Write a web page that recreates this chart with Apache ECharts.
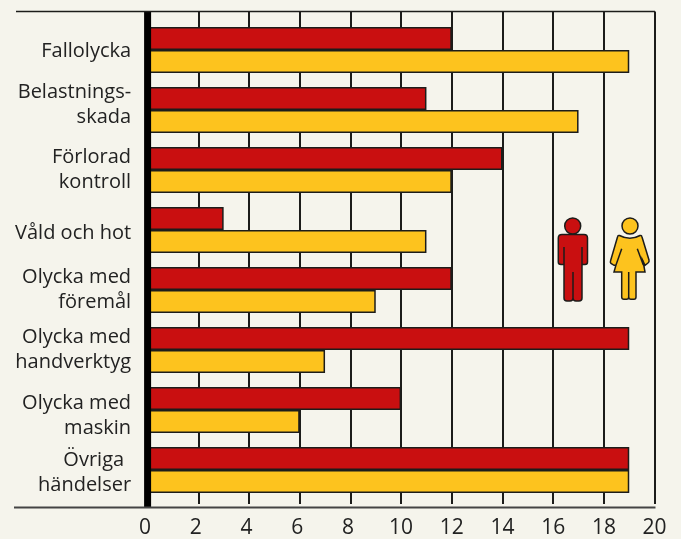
<!DOCTYPE html>
<html lang="sv">
<head>
    <meta charset="UTF-8">
    <title>Olyckor</title>
    <script src="https://cdn.jsdelivr.net/npm/echarts@6/dist/echarts.min.js"></script>
    <style>
        html, body { margin: 0; padding: 0; background: #f5f4ec; }
    </style>
</head>
<body>
<div id="main" style="width: 681px;height:539px;"></div>

<script type="text/javascript">
    var categories = ['Fallolycka', 'Belastnings-\nskada', 'Förlorad\nkontroll', 'Våld och hot',
        'Olycka med\nföremål', 'Olycka med\nhandverktyg', 'Olycka med\nmaskin', 'Övriga\nhändelser'];
    var men = [12, 11, 14, 3, 12, 19, 10, 19];
    var women = [19, 17, 12, 11, 9, 7, 6, 19];
    var xTicks = { min: 0, max: 20, interval: 2 };

    var ink = '#1c1c1a';
    var red = '#c90f10';
    var yellow = '#fdc31e';
    var font = '"Open Sans", "Noto Sans", sans-serif';

    // etiketterna sitter inte exakt mitt för staplarna i originalet (px, + är nedåt)
    var labelShift = [1, -5, 0, 3.5, 0, 0, 6, 3];
    // "Övriga" står lite indraget från högerkanten
    var firstLineInset = [0, 0, 0, 0, 0, 0, 0, 7];

    var myChart = echarts.init(document.getElementById('main'));

    var labelRich = {};
    categories.forEach(function (name, i) {
        var s = labelShift[i];
        var pad = [Math.max(2 * s, 0), 0, Math.max(-2 * s, 0), 0];
        var base = { color: '#222', fontSize: 20, fontFamily: font, lineHeight: 25, align: 'right' };
        labelRich['a' + i] = Object.assign({}, base, { padding: [pad[0], firstLineInset[i], pad[2], 0] });
        labelRich['b' + i] = Object.assign({}, base, { padding: pad });
    });

    function categoryLabel(value) {
        var i = categories.indexOf(value);
        return value.split('\n').map(function (text, n) {
            return '{' + (n === 0 ? 'a' : 'b') + i + '|' + text + '}';
        }).join('\n');
    }

    // ritar ett streck i bilden, utanför axlarna
    function line(x1, y1, x2, y2, width, color) {
        return {
            type: 'line', z: 5, silent: true,
            shape: { x1: x1, y1: y1, x2: x2, y2: y2 },
            style: { stroke: color, lineWidth: width }
        };
    }

    var manPath = 'M562 234.5 L584 234.5 Q587.5 234.5 587.5 238 L587.5 262 Q587.5 264.5 585 264.5 L582 264.5 ' +
        'L582 298 Q582 301 579 301 L576 301 Q573 301 573 298 Q573 301 570 301 L567 301 Q564 301 564 298 ' +
        'L564 264.5 L561 264.5 Q558.3 264.5 558.3 262 L558.3 238 Q558.3 234.5 562 234.5 Z ' +
        'M582 247 L582 264.5 M564 247 L564 264.5 M573 272 L573 298';
    var womanPath = 'M619.5 235.5 Q630 241 640 235.5 Q641.5 235 642 237 L649 260 Q649.5 262 648 263 L645 265.3 L643 261 L645 272 ' +
        'L636 272 L636 297 Q636 299.3 634 299.3 L631 299.3 Q628.7 299.3 628.7 297 Q628.7 299.3 626.5 299.3 L624 299.3 Q621.7 299.3 621.7 297 ' +
        'L621.7 272 L614 272 L616 265 L614 265.3 L611 263.5 Q610 262.5 610.5 261 L617.5 237 Q618 235 619.5 235.5 Z ' +
        'M621.7 248.7 L616 265 M637.3 248.7 L643.3 265 M628.7 272 L628.7 297';
    echarts.graphic.registerShape('manBody', echarts.graphic.extendPath(manPath, {}));
    echarts.graphic.registerShape('womanBody', echarts.graphic.extendPath(womanPath, {}));

    var option = {
        backgroundColor: '#f5f4ec',
        animation: false,
        // två rutnät: det yttre ger ramen och skalan, det inre placerar staplarna
        grid: [
            { left: 147.6, top: 11.5, width: 507, height: 496 },
            { left: 147.6, top: 20, width: 507, height: 480 }
        ],
        xAxis: [{
            gridIndex: 0,
            type: 'value',
            min: xTicks.min,
            max: xTicks.max,
            interval: xTicks.interval,
            axisLine: { show: false },
            axisTick: { show: false },
            splitLine: { show: true, lineStyle: { color: ink, width: 2 } },
            axisLabel: {
                color: '#222', fontSize: 21, fontFamily: font, margin: 14,
                formatter: function (v) { return v < 10 ? '{s|' + v + '}' : String(v); },
                rich: { s: { color: '#222', fontSize: 21, fontFamily: font, padding: [0, 5, 0, 0] } }
            }
        }, {
            gridIndex: 1,
            type: 'value',
            min: xTicks.min,
            max: xTicks.max,
            show: false
        }],
        yAxis: [{
            gridIndex: 0,
            type: 'category',
            data: categories,
            show: false
        }, {
            gridIndex: 1,
            type: 'category',
            inverse: true,
            data: categories,
            z: 4,
            axisLine: { show: false },
            axisTick: { show: false },
            axisLabel: {
                color: '#222', fontSize: 20, fontFamily: font, lineHeight: 25,
                align: 'right', margin: 16.5,
                formatter: categoryLabel,
                rich: labelRich
            }
        }],
        series: [{
            name: 'Män',
            type: 'bar',
            xAxisIndex: 1,
            yAxisIndex: 1,
            data: men,
            barWidth: 23,
            barGap: '0%',
            itemStyle: { color: red, borderColor: ink, borderWidth: 1.5 }
        }, {
            name: 'Kvinnor',
            type: 'bar',
            xAxisIndex: 1,
            yAxisIndex: 1,
            data: women,
            barWidth: 23,
            itemStyle: { color: yellow, borderColor: ink, borderWidth: 1.5 }
        }],
        graphic: [
            line(147.6, 11.5, 147.6, 507.5, 7, '#000'),
            line(16, 11.5, 655, 11.5, 1.5, ink),
            line(14, 507.5, 655.5, 507.5, 2, '#444'),
            { type: 'circle', z: 5, shape: { cx: 572.7, cy: 226, r: 8 }, style: { fill: red, stroke: ink, lineWidth: 1.5 } },
            { type: 'manBody', z: 5, style: { fill: red, stroke: ink, lineWidth: 1.5 } },
            { type: 'circle', z: 5, shape: { cx: 630, cy: 226, r: 8 }, style: { fill: yellow, stroke: ink, lineWidth: 1.5 } },
            { type: 'womanBody', z: 5, style: { fill: yellow, stroke: ink, lineWidth: 1.5 } }
        ]
    };

    myChart.setOption(option);
</script>
</body>
</html>
